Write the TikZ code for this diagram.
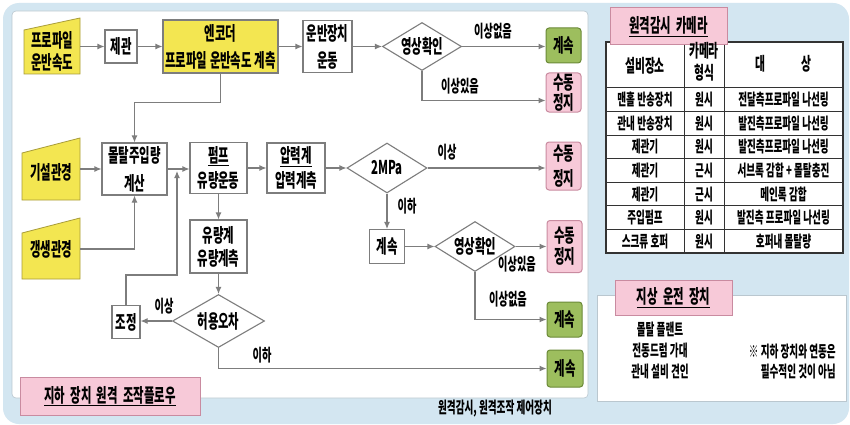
\documentclass[tikz,border=0pt]{standalone}
\usepackage{fontspec}
\setmainfont{Noto Sans CJK KR}[FakeStretch=0.6]
\usetikzlibrary{arrows.meta,shapes.geometric}
\definecolor{bgblue}{HTML}{D3E6F1}
\definecolor{ylw}{HTML}{F3E651}
\definecolor{ylwd}{HTML}{A89C3A}
\definecolor{grn}{HTML}{9DBE5E}
\definecolor{grnd}{HTML}{6B8A38}
\definecolor{pnk}{HTML}{F7C9D8}
\definecolor{pnkd}{HTML}{C98BA0}
\definecolor{ln}{HTML}{7D7D7D}
\definecolor{tab}{HTML}{333333}
\begin{document}
\begin{tikzpicture}[x=1pt,y=-1pt,
  every node/.style={inner sep=0pt, font=\bfseries\fontsize{19}{25}\selectfont},
  box/.style n args={2}{draw=ln, line width=1.1pt, fill=white, minimum width=#1pt, minimum height=#2pt, align=center},
  ybox/.style n args={2}{minimum width=#1pt, minimum height=#2pt, align=center},
  gbox/.style n args={2}{draw=grnd, line width=1pt, fill=grn, rounded corners=3pt, minimum width=#1pt, minimum height=#2pt, align=center},
  pbox/.style n args={2}{draw=pnkd, line width=1pt, fill=pnk, rounded corners=3pt, minimum width=#1pt, minimum height=#2pt, align=center},
  ttl/.style n args={2}{draw=pnkd, line width=1pt, fill=pnk, minimum width=#1pt, minimum height=#2pt, align=center},
  dia/.style n args={2}{diamond, draw=ln, line width=1.1pt, fill=white, minimum width=#1pt, minimum height=#2pt, aspect=1.6},
  lbl/.style={font=\bfseries\fontsize{17}{20}\selectfont},
  arr/.style={draw=ln, line width=1.1pt, -{Latex[length=7pt,width=6pt]}},
  trap/.style={draw=ylwd, fill=ylw, line width=0.8pt},
  tline/.style={draw=tab, line width=1pt},
  cell/.style={font=\bfseries\fontsize{16}{18}\selectfont},
  hcell/.style={font=\bfseries\fontsize{18}{22}\selectfont, align=center},
]
\useasboundingbox (0,0) rectangle (850,425);
% background
\fill[white] (0,0) rectangle (850,425);
\fill[bgblue, rounded corners=16pt] (3,3) rectangle (849,424);
\filldraw[fill=white, draw=bgblue!70!gray, line width=0.6pt, rounded corners=4pt] (12,11) rectangle (588,398);
\filldraw[fill=white, draw=bgblue!70!gray, line width=0.6pt] (597,295) rectangle (846,401);

% ---- row 1
\draw[trap] (24,30) -- (80,18) -- (80,74) -- (24,74) -- cycle;
\node[ybox={56}{44}, font=\bfseries\fontsize{19}{22}\selectfont] (prof) at (52,51) {프로파일\\운반속도};
\node[box={32}{33}] (jg) at (121,46.5) {제관};
\node[box={115}{53}, fill=ylw] (enc) at (220.5,46.5) {엔코더\\[2pt]프로파일 운반속도 계측};
\node[box={49}{52}] (mv) at (327.5,46.5) {운반장치\\[2pt]운동};
\node[dia={79}{48}] (d1) at (422,46.5) {영상확인};
\node[gbox={35}{35}] (c1) at (563.5,45.5) {계속};
\node[pbox={35}{39}, font=\bfseries\fontsize{19}{20}\selectfont] (s1) at (563.5,92.5) {수동\\정지};
\node[lbl] (l1) at (493,31) {이상없음};
\node[lbl] (l2) at (460,86) {이상있음};

\draw[arr] (prof.east |- jg) -- (jg.west);
\draw[arr] (jg) -- (enc);
\draw[arr] (enc) -- (mv);
\draw[arr] (mv) -- (d1);
\draw[arr] (d1.east) -- (d1.east -| c1.west);
\draw[arr] (d1.south) |- ([yshift=-8pt]s1.west);

% ---- row 2
\draw[trap] (22,153) -- (80,138) -- (80,200) -- (22,200) -- cycle;
\node[ybox={58}{46}] (gs1) at (51,172) {기설관경};
\draw[trap] (22,233) -- (80,218) -- (80,279) -- (22,279) -- cycle;
\node[ybox={58}{46}] (gs2) at (51,249) {갱생관경};
\node[box={65}{52}] (mort) at (134.5,169) {몰탈주입량\\[3pt]계산};
\node[box={57}{51}] (pump) at (218.5,168) {\underline{펌프}\\유량운동};
\node[box={58}{50}] (pres) at (296,168) {\underline{압력계}\\압력계측};
\node[dia={80}{50}] (d2) at (387,168) {2MPa};
\node[pbox={35}{48}] (s2) at (563.5,166) {수동\\정지};
\node[lbl] (l3) at (447,152) {이상};
\node[lbl] (l4) at (407,206) {이하};
\node[box={35}{34}] (cw) at (387,246.5) {계속};
\node[dia={80}{50}] (d3) at (475,246.5) {영상확인};
\node[pbox={35}{52}, font=\bfseries\fontsize{19}{21}\selectfont] (s3) at (564.5,246.5) {수동\\정지};
\node[lbl] (l5) at (517,264) {이상있음};
\node[gbox={35}{35}] (c2) at (564.5,319.5) {계속};
\node[lbl] (l6) at (508,299) {이상없음};
\node[box={57}{53}, font=\bfseries\fontsize{19}{23}\selectfont] (flow) at (218.5,246.5) {유량계\\유량계측};
\node[dia={92}{53}] (d4) at (218.5,321) {허용오차};
\node[box={28}{33}] (adj) at (126,322) {조정};
\node[lbl] (l7) at (164,306) {이상};
\node[gbox={36}{37}] (c3) at (565,368.5) {계속};
\node[lbl] (l8) at (262,355) {이하};
\coordinate (fb) at (177,275);
\coordinate (jn) at (177,171);

\draw[arr] (enc.south) -- ++(0,29) -| (mort.north);
\draw[arr] (gs1.east |- mort) -- (mort.west);
\draw[arr] (gs2.east) -| (mort.south);
\draw[arr] (mort.east) -- (mort.east -| pump.west);
\draw[arr] (pump) -- (pres);
\draw[arr] (pres) -- (d2);
\draw[arr] (d2.east) -- (d2.east -| s2.west);
\draw[arr] (d2.south) -- (cw.north);
\draw[arr] (cw) -- (d3);
\draw[arr] (d3) -- (s3);
\draw[arr] (d3.south) |- (c2.west);
\draw[arr] (pump.south) -- (flow.north);
\draw[arr] (flow.south) -- (d4.north);
\draw[arr] (d4.west) -- (d4.west -| adj.east);
\draw[arr] (adj.north) |- (fb) -- (jn);
\draw[arr] (d4.south) |- (c3.west);

\node[ttl={180}{38}] (t1) at (110,396) {\underline{지하\ \ 장치\ \ 원격\ \ 조작플로우}};
\node[font=\bfseries\fontsize{16}{18}\selectfont] (cap) at (495,409) {원격감시, 원격조작 제어장치};

% ---- table
\fill[white] (606,42) rectangle (843,253);
\foreach \yy in {88,111.6,135.1,158.7,182.3,205.9,229.4}
  \draw[tline] (606,\yy) -- (843,\yy);
\draw[tline] (684,42) -- (684,253);
\draw[tline] (724,42) -- (724,253);
\draw[tab, line width=1.4pt] (606,42) rectangle (843,253);
\node[ttl={117}{37}] (t2) at (668.5,26.5) {\underline{원격감시\ \ 카메라}};
\node[hcell] (h1) at (645,66) {설비장소};
\node[hcell, font=\bfseries\fontsize{18}{22}\selectfont] (h2) at (704,62) {카메라\\형식};
\node[hcell] (h3) at (783,64) {대\hspace{36pt}상};
\foreach \i/\a/\b/\c in {1/맨홀 반송장치/원시/전달측프로파일 나선링,
  2/관내 반송장치/원시/발진측프로파일 나선링,
  3/제관기/원시/발진측프로파일 나선링,
  4/제관기/근시/서브록 감합 + 몰탈충진,
  5/제관기/근시/메인록 감합,
  6/주입펌프/원시/발진측 프로파일 나선링,
  7/스크류 호퍼/원시/호퍼내 몰탈량} {
  \pgfmathsetmacro\yy{88+23.57*(\i-0.5)}
  \node[cell] (ra\i) at (645,\yy) {\a};
  \node[cell] (rb\i) at (704,\yy) {\b};
  \node[cell] (rc\i) at (783.5,\yy) {\c};
}

% ---- ground panel
\node[ttl={117}{35}] (t3) at (673.5,297.5) {\underline{지상\ \ 운전\ \ 장치}};
\node[align=center, font=\bfseries\fontsize{16}{21}\selectfont] (g1) at (660,351) {몰탈 플랜트\\전동드럼 가대\\관내 설비 견인};
\node[align=right, anchor=east, font=\bfseries\fontsize{16}{20}\selectfont] (nt) at (836,362) {※ 지하 장치와 연동은\\필수적인 것이 아님};
\end{tikzpicture}
\end{document}
